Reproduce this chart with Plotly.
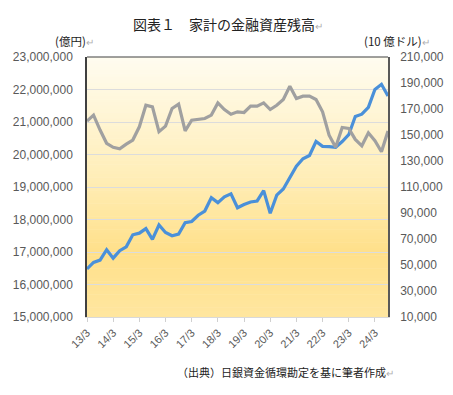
import plotly.graph_objects as go

# ---- data ----
years = list(range(13, 25))
months = [3, 6, 9, 12]
quarters = [f"{y}/{m}" for y in years for m in months][:47]   # 13/3 ... 24/9
year_ticks = [f"{y}/3" for y in years]

assets_oku_yen = [
    16480000, 16680000, 16750000, 17070000, 16810000, 17040000, 17160000, 17530000,
    17580000, 17720000, 17390000, 17830000, 17600000, 17500000, 17550000, 17900000,
    17940000, 18130000, 18260000, 18670000, 18520000, 18700000, 18790000, 18360000,
    18460000, 18540000, 18570000, 18890000, 18190000, 18750000, 18940000, 19310000,
    19640000, 19870000, 19970000, 20400000, 20250000, 20240000, 20220000, 20400000,
    20610000, 21170000, 21240000, 21450000, 22000000, 22160000, 21800000,
]
assets_bn_usd = [
    160700, 165300, 153800, 143600, 140500, 139400, 143000, 146100,
    156300, 172900, 171600, 152500, 156800, 170400, 173700, 153200,
    161400, 162000, 162700, 165300, 174700, 169600, 166000, 167800,
    167300, 172200, 172200, 174700, 169600, 172900, 177300, 187500,
    178100, 179900, 179900, 177300, 167800, 149900, 140500, 155800,
    155100, 146600, 141700, 151700, 145600, 137100, 153000,
]

title_text = "図表１　家計の金融資産残高"
left_unit = "(億円)"
right_unit = "(10 億ドル)"
source_text = "（出典）日銀資金循環勘定を基に筆者作成"

# ---- figure ----
fig = go.Figure()
fig.add_trace(go.Scatter(
    x=quarters, y=assets_bn_usd, mode="lines", yaxis="y2",
    line=dict(color="#A0A0A0", width=3.2), name="10億ドル", hoverinfo="skip"))
fig.add_trace(go.Scatter(
    x=quarters, y=assets_oku_yen, mode="lines", yaxis="y",
    line=dict(color="#4A90D9", width=3.2), name="億円", hoverinfo="skip"))

# gradient background of plot area (paper-relative stripes)
def lerp(c1, c2, t):
    return tuple(round(a + (b - a) * t) for a, b in zip(c1, c2))

stops = [(0.0, (255, 252, 240)), (0.45, (255, 238, 185)),
         (0.75, (255, 224, 138)), (1.0, (255, 230, 160))]
n = 80
shapes = []
for k in range(n):
    t = (k + 0.5) / n  # from top
    for j in range(len(stops) - 1):
        if stops[j][0] <= t <= stops[j + 1][0]:
            tt = (t - stops[j][0]) / (stops[j + 1][0] - stops[j][0])
            c = lerp(stops[j][1], stops[j + 1][1], tt)
            break
    y1 = 1 - k / n
    y0 = 1 - (k + 1) / n - 0.002
    shapes.append(dict(type="rect", xref="paper", yref="paper", x0=0, x1=1,
                       y0=max(y0, 0), y1=y1, fillcolor="rgb(%d,%d,%d)" % c,
                       line=dict(width=0), layer="below"))
# top border of plot area
shapes.append(dict(type="line", xref="paper", yref="paper", x0=0, x1=1, y0=1, y1=1,
                   line=dict(color="#404040", width=1.2), layer="above"))

tick_font = dict(family="Liberation Sans, Arial, sans-serif", size=12, color="#595959")
mark = "<span style='color:#B0B0B0;font-size:10px'>↵</span>"

fig.update_layout(
    width=437, height=379,
    margin=dict(l=79, r=57, t=49, b=70, autoexpand=False),
    paper_bgcolor="white", plot_bgcolor="rgba(0,0,0,0)",
    showlegend=False,
    shapes=shapes,
    xaxis=dict(
        type="category", range=[0, len(quarters) - 1],
        tickmode="array", tickvals=year_ticks, ticktext=year_ticks,
        tickangle=-45, tickfont=dict(family="Liberation Sans, Arial, sans-serif",
                                     size=11, color="#595959"),
        ticks="outside", ticklen=4, tickcolor="#D0D0D0",
        showgrid=False, showline=True, linecolor="#D9D9D9", linewidth=1,
        zeroline=False, fixedrange=True, automargin=False),
    yaxis=dict(
        range=[15000000, 23000000], tick0=15000000, dtick=1000000, tickformat=",d",
        tickfont=tick_font, showgrid=True, gridcolor="#DCDCDC", gridwidth=1,
        showline=True, linecolor="#404040", linewidth=1.5, ticks="",
        ticklabelstandoff=10,
        zeroline=False, fixedrange=True, automargin=False),
    yaxis2=dict(
        range=[10000, 210000], tick0=10000, dtick=20000, tickformat=",d", overlaying="y",
        side="right", tickfont=tick_font, showgrid=False,
        showline=True, linecolor="#595959", linewidth=1.5, ticks="",
        ticklabelstandoff=8,
        zeroline=False, fixedrange=True, automargin=False),
    annotations=[
        dict(text=title_text + mark, xref="paper", yref="paper", x=0.47, y=1,
             xanchor="center", yanchor="middle", yshift=33, showarrow=False,
             font=dict(family="Noto Sans CJK JP", size=14, color="#222222")),
        dict(text=left_unit + mark, xref="paper", yref="paper", x=-0.113, y=1,
             xanchor="left", yanchor="middle", yshift=16, showarrow=False,
             font=dict(family="Noto Sans CJK JP", size=11.5, color="#222222")),
        dict(text=right_unit + mark, xref="paper", yref="paper", x=0.914, y=1,
             xanchor="left", yanchor="middle", yshift=16, showarrow=False,
             font=dict(family="Noto Sans CJK JP", size=11.5, color="#222222")),
        dict(text=source_text + mark, xref="paper", yref="paper", x=0.292, y=0,
             xanchor="left", yanchor="middle", yshift=-55, showarrow=False,
             font=dict(family="Noto Sans CJK JP", size=11, color="#222222")),
    ],
)

fig.write_html("out.html")
